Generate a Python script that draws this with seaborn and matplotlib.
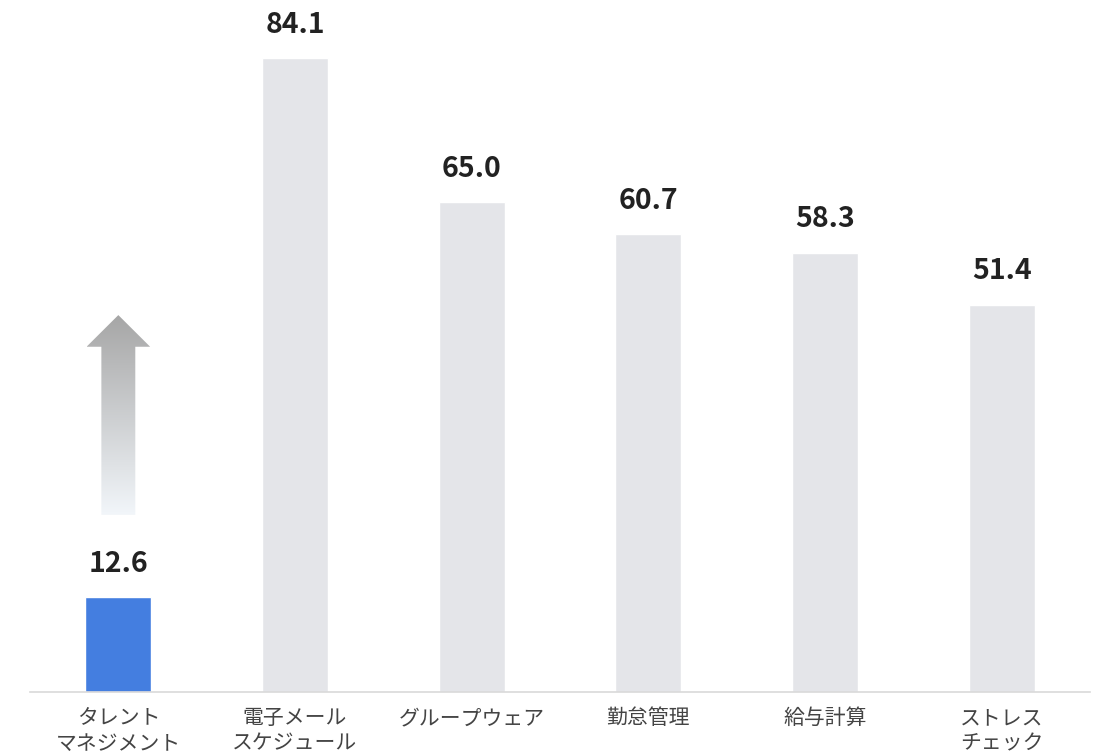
import matplotlib
matplotlib.use("Agg")
import matplotlib.pyplot as plt
from matplotlib.patches import Polygon
import numpy as np
import pandas as pd
import seaborn as sns

categories = ["タレント\nマネジメント", "電子メール\nスケジュール", "グループウェア",
              "勤怠管理", "給与計算", "ストレス\nチェック"]
values = [12.6, 84.1, 65.0, 60.7, 58.3, 51.4]
bar_colors = ["#447ee0", "#e4e5e9", "#e4e5e9", "#e4e5e9", "#e4e5e9", "#e4e5e9"]

sns.set_theme(style="white")
plt.rcParams["font.family"] = ["Noto Sans CJK JP", "DejaVu Sans"]

df = pd.DataFrame({"cat": categories, "val": values})

fig = plt.figure(figsize=(11.04, 7.55), dpi=100)
ax = fig.add_axes([30 / 1104, 63 / 755, 1060 / 1104, 692 / 755])

sns.barplot(data=df, x="cat", y="val", hue="cat", palette=bar_colors,
            width=0.373, legend=False, ax=ax, saturation=1)

for i, v in enumerate(values):
    ax.annotate(f"{v:.1f}", (i, v), xytext=(0, 14), textcoords="offset points",
                ha="center", va="bottom", fontsize=20.5, fontweight="bold",
                color="#222222")

# gradient arrow above the first bar
arrow = Polygon([(-0.096, 23.5), (-0.096, 45.8), (-0.18, 45.8), (0.0, 50.0),
                 (0.18, 45.8), (0.096, 45.8), (0.096, 23.5)], closed=True,
                facecolor="none", edgecolor="none", transform=ax.transData)
ax.add_patch(arrow)
grad = np.linspace(0, 1, 256).reshape(-1, 1)
cmap = matplotlib.colors.LinearSegmentedColormap.from_list("g", ["#f2f6fa", "#a6a6a6"])
img = ax.imshow(grad, cmap=cmap, extent=(-0.18, 0.18, 23.5, 50.0), origin="lower",
                aspect="auto", zorder=3)
img.set_clip_path(arrow)

ax.set_xlim(-0.5, 5.5)
ax.set_ylim(0, 91.8)
ax.set_xlabel("")
ax.set_ylabel("")
ax.set_yticks([])
for s in ["top", "right", "left"]:
    ax.spines[s].set_visible(False)
ax.spines["bottom"].set_color("#d9d9d9")
ax.spines["bottom"].set_linewidth(1.2)
ax.tick_params(axis="x", length=0, pad=11, labelsize=15, labelcolor="#444444")
for t in ax.get_xticklabels():
    t.set_linespacing(1.2)

fig.savefig("out.png", dpi=100)
